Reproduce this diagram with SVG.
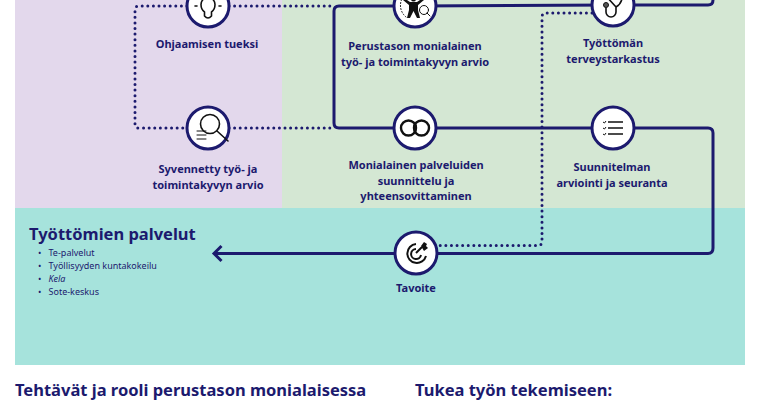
<svg xmlns="http://www.w3.org/2000/svg" width="760" height="400" viewBox="0 0 760 400">
<style>
text{font-family:"Noto Sans","Open Sans","Liberation Sans",sans-serif;fill:#1c1a6e}
.l{font-size:11px;font-weight:700;text-anchor:middle}
.h{font-size:16.500px;font-weight:700}
.s{font-size:9px}
.solid{fill:none;stroke:#1c1a6e;stroke-width:3;stroke-linejoin:round}
.dot{fill:none;stroke:#1c1a6e;stroke-width:3;stroke-linecap:round;stroke-dasharray:0 5.6}
.c{fill:#fff;stroke:#1c1a6e;stroke-width:3}
.i{fill:none;stroke:#111;stroke-width:1.6;stroke-linecap:round;stroke-linejoin:round}
.t{fill:none;stroke:#111;stroke-width:1;stroke-linecap:round}
</style>
<defs>
<marker id="arr" markerUnits="userSpaceOnUse" markerWidth="14" markerHeight="20" refX="9.500" refY="10" orient="auto"><path d="M2 2.500 L9.500 10 L2 17.500" fill="none" stroke="#1c1a6e" stroke-width="3"/></marker>
</defs>
<rect width="760" height="400" fill="#fff"/>
<g id="bands">
<rect x="15" y="0" width="267" height="208" fill="#e3d8ec"/>
<rect x="282" y="0" width="463" height="208" fill="#d4e7d3"/>
<rect x="15" y="208" width="730" height="157" fill="#a6e3dc"/>
</g>
<g id="connectors">
<path class="dot" d="M187 6H139Q135 6 135 10V124Q135 128 139 128H187"/>
<path class="dot" d="M229 6H334"/>
<path class="dot" d="M229 128H334"/>
<path class="dot" d="M592 13H546Q542 13 542 17V241Q542 245.500 538 245.500H437"/>
<path class="solid" d="M613 5H708Q713 5 713 0"/>
<path class="solid" d="M415 6L613 5"/>
<path class="solid" d="M415 6H339Q334 6 334 11V123Q334 128 339 128H708Q713 128 713 133V248Q713 253.500 708 253.500H214" marker-end="url(#arr)"/>
</g>
<g id="ohjaamisen">
<circle class="c" cx="208" cy="6" r="21"/>
<path class="i" d="M204.500 16V12Q201 9.500 201 4.500A7 7 0 0 1 215 4.500Q215 9.500 211.500 12V16Q208 20 204.500 16Z"/>
<path class="i" d="M197 6H195M219 6H221"/>
<text class="l" x="207" y="48">Ohjaamisen tueksi</text>
</g>
<g id="perustason">
<circle class="c" cx="415" cy="6" r="21"/>
<circle cx="413.500" cy="-1" r="2.500" fill="#111"/>
<path d="M410 2H417L423 -2 424 0 418 5V10L420 18H417L413.500 11 410 18H407L409 10V5L403 0 404 -2Z" fill="#111"/>
<circle cx="424" cy="10" r="4.500" class="t" fill="#d4e7d3"/>
<path class="t" d="M427 13L430 16"/>
<path class="t" stroke-dasharray="1 2" d="M403 -3A15 15 0 0 0 406 17"/>
<text class="l" x="415" y="50">Perustason monialainen</text>
<text class="l" x="415" y="66">työ- ja toimintakyvyn arvio</text>
</g>
<g id="terveystarkastus">
<circle class="c" cx="613" cy="5" r="21"/>
<path class="i" d="M622 -6Q623 3 616 7L606 -4M616 7V12A5 5 0 0 1 606 12V8"/>
<circle cx="606" cy="5" r="2.500" fill="#555" stroke="#111"/>
<text class="l" x="613" y="47">Työttömän</text>
<text class="l" x="613" y="63">terveystarkastus</text>
</g>
<g id="syvennetty">
<circle class="c" cx="208" cy="128" r="21"/>
<circle class="i" cx="210" cy="124" r="9.500"/>
<path class="i" d="M217 131L228 141"/>
<path class="t" d="M197 131H206M197 135H206M197 139H206"/>
<text class="l" x="208" y="173">Syvennetty työ- ja</text>
<text class="l" x="208" y="189">toimintakyvyn arvio</text>
</g>
<g id="monialainen">
<circle class="c" cx="415" cy="128" r="21"/>
<circle cx="408.500" cy="128" r="7.500" fill="none" stroke="#111" stroke-width="2.400"/>
<circle cx="421.500" cy="128" r="7.500" fill="none" stroke="#111" stroke-width="2.400"/>
<path d="M415 122.500Q418.500 128 415 133.500Q411.500 128 415 122.500Z" fill="#111"/>
<text class="l" x="416" y="169">Monialainen palveluiden</text>
<text class="l" x="416" y="185">suunnittelu ja</text>
<text class="l" x="416" y="200">yhteensovittaminen</text>
</g>
<g id="suunnitelman">
<circle class="c" cx="613" cy="128" r="21"/>
<path d="M608 122H623M608 128H623M608 134H623" fill="none" stroke="#111" stroke-width="1.500"/>
<path d="M603 122L604.500 123 606 121M603 128L604.500 129 606 127M603 134L604.500 135 606 133" fill="none" stroke="#111" stroke-width="1"/>
<text class="l" x="612" y="171">Suunnitelman</text>
<text class="l" x="612" y="187">arviointi ja seuranta</text>
</g>
<g id="tavoite">
<circle class="c" cx="416" cy="253" r="21"/>
<path d="M416 244A9.500 9.500 0 1 0 426 256M416 249A5 5 0 1 0 421 255" fill="none" stroke="#111" stroke-width="2"/>
<path d="M416 253L422 247" stroke="#111" stroke-width="2"/>
<path d="M421 246L424 242 427 244 426 246 428 248 424 251Z" fill="#111"/>
<text class="l" x="416" y="292">Tavoite</text>
</g>
<g id="palvelut">
<text class="h" x="29" y="240">Työttömien palvelut</text>
<text class="s" x="38" y="256">•</text><text class="s" x="48.500" y="256">Te-palvelut</text>
<text class="s" x="38" y="269">•</text><text class="s" x="48.500" y="269">Työllisyyden kuntakokeilu</text>
<text class="s" x="38" y="282">•</text><text class="s" x="48.500" y="282" font-style="italic">Kela</text>
<text class="s" x="38" y="295">•</text><text class="s" x="48.500" y="295">Sote-keskus</text>
</g>
<g id="otsikot">
<text class="h" x="15" y="396">Tehtävät ja rooli perustason monialaisessa</text>
<text class="h" x="415" y="396">Tukea työn tekemiseen:</text>
</g>
</svg>
